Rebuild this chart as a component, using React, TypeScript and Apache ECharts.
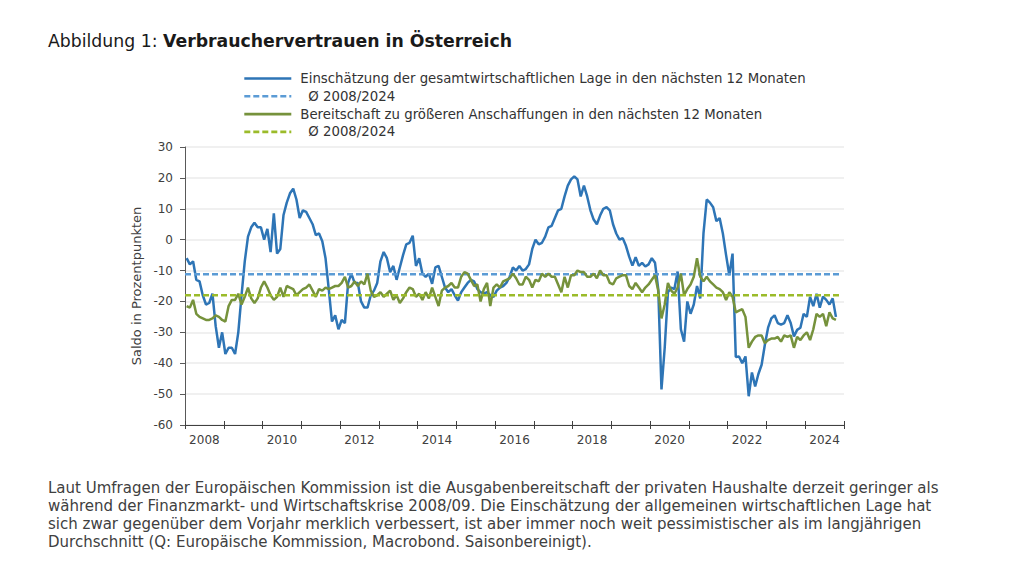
import React, { useEffect, useRef } from 'react';
import * as echarts from 'echarts';

const YEARS = ['2008','2009','2010','2011','2012','2013','2014','2015','2016','2017','2018','2019','2020','2021','2022','2023','2024'];

// Einschätzung der gesamtwirtschaftlichen Lage (monthly, Jan 2008 – Oct 2024)
const LAGE = [
  -6, -8, -7, -13, -13.5, -18, -21, -20.5, -17.5, -28, -35, -30,
  -37, -35, -35, -37, -30, -18, -7, 1, 4, 5.5, 4, 4,
  0, 3.5, -4, 8.5, -4.5, -3, 8, 12, 15, 16.5, 13, 7,
  9.5, 9, 7, 5, 1.5, 2, -0.5, -6, -16, -26.5, -24.5, -29,
  -26, -27, -14, -11, -14, -14, -20, -22, -22, -18, -16.5, -14,
  -7, -4, -6, -10.5, -8.5, -13, -9, -5, -1.5, -1, 1.3, -8.5,
  -6, -11, -12, -11, -14.3, -9, -8.5, -12, -15.5, -17, -16, -18,
  -19.7, -17, -15.5, -14, -13, -13.5, -16, -17, -17.5, -17, -18, -18.5,
  -16.5, -15.5, -15, -14, -12, -9, -10, -8.5, -10, -9.5, -8, -3,
  0, -1.5, -1, 1, 4, 4.5, 7, 9.5, 10, 14, 17.5, 19.5,
  20.5, 19.5, 14, 17.5, 14, 9.5, 6.5, 5, 7.8, 10, 10.5, 9.5,
  5, 2, 0, 0.5, -2, -5.5, -8.4, -5.7, -8.5, -7.5, -8.7, -8,
  -6, -7.5, -16, -48.5, -35, -17, -15.5, -16, -10.3, -29, -33, -20,
  -24, -21, -15, -19, 2, 13, 12, 10.5, 6, 7, 2, -5,
  -11.5, -4.5, -38, -37.8, -40, -37.8, -50.7, -43, -47.5, -43.5, -40.5, -34,
  -28.5, -25.5, -24.5, -27, -27.5, -27, -24.5, -27, -31.3, -29.2, -28.5, -24,
  -25, -18.5, -21.5, -17.5, -22, -18.4, -19.5, -21, -19, -25
];

// Bereitschaft zu größeren Anschaffungen (monthly, Jan 2008 – Oct 2024)
const ANSCHAFFUNG = [
  -21.5, -22, -19.5, -24, -25, -25.5, -26, -26, -25.5, -24.5, -25, -26,
  -26.5, -21.5, -19.5, -19.5, -17.5, -21, -18.5, -15.5, -19, -20.5, -19, -15.5,
  -13.5, -15.5, -18, -19.5, -18.5, -15.5, -18.5, -15, -15.5, -16, -18, -17,
  -16, -15.5, -14.5, -16.5, -18.5, -16, -16.5, -15.5, -16, -15.5, -15, -15,
  -14, -12, -15.5, -15, -13.5, -15, -13.5, -14.5, -11, -16.5, -18.5, -18,
  -17, -18.5, -17.5, -16.5, -19.5, -18, -20.5, -19, -17, -15.5, -16, -18.5,
  -17.5, -19.5, -17, -19, -15.5, -18.5, -21.5, -16.5, -15.5, -15, -14, -15.5,
  -15.5, -12, -10.5, -11, -13, -15, -14.5, -20, -16, -14, -21.5, -15.5,
  -14.5, -15.5, -13.5, -13, -12.5, -11, -12.5, -14.5, -14.5, -12, -13, -15.5,
  -13, -13.5, -11, -12, -11, -12, -12, -14.5, -17, -12, -15.5, -11.5,
  -11.5, -10, -10.5, -10.5, -12, -12, -11, -12.5, -10, -11.5, -11.5, -14,
  -14.5, -12.5, -12, -11.5, -11.5, -15, -16, -14, -15.5, -17, -15.5, -14.5,
  -13, -11.5, -16.5, -25.5, -21, -14, -16.5, -17.5, -15.5, -11, -18, -16,
  -14.5, -12, -6, -12, -13.5, -12, -13.5, -14.5, -15.5, -16, -17, -19.5,
  -17, -18.5, -23.5, -23, -22.5, -25, -35, -33, -31.5, -31, -31, -33.5,
  -32.5, -32, -32, -31.5, -33, -31, -31.5, -31, -35, -31.5, -32.5, -31,
  -30, -32.5, -29, -24, -25, -24, -28, -23.5, -25.5, -26
];

const LAGE_AVG = -11.2;
const ANSCHAFFUNG_AVG = -18.0;
const AVG_MONTHS = [0, 202.7];

const LEGEND_LABELS: Record<string, string> = {
  lage: 'Einschätzung der gesamtwirtschaftlichen Lage in den nächsten 12 Monaten',
  lageAvg: 'Ø 2008/2024',
  anschaffung: 'Bereitschaft zu größeren Anschaffungen in den nächsten 12 Monaten',
  anschaffungAvg: 'Ø 2008/2024',
};

const TITLE_PREFIX = 'Abbildung 1: ';
const TITLE_MAIN = 'Verbrauchervertrauen in Österreich';
const Y_NAME = 'Saldo in Prozentpunkten';
const PARAGRAPH = [
  'Laut Umfragen der Europäischen Kommission ist die Ausgabenbereitschaft der privaten Haushalte derzeit geringer als',
  'während der Finanzmarkt- und Wirtschaftskrise 2008/09. Die Einschätzung der allgemeinen wirtschaftlichen Lage hat',
  'sich zwar gegenüber dem Vorjahr merklich verbessert, ist aber immer noch weit pessimistischer als im langjährigen',
  'Durchschnitt (Q: Europäische Kommission, Macrobond. Saisonbereinigt).',
];

const FONT = 'DejaVu Sans';
const TEXT_COLOR = '#404040';

export default function App() {
  const ref = useRef<HTMLDivElement>(null);
  useEffect(() => {
    if (!ref.current) return;
    const chart = echarts.init(ref.current, undefined, { renderer: 'svg' });
    const toPoints = (arr: number[]) => arr.map((v, i) => [i + 0.5, v]);
    const avgPoints = (v: number) => AVG_MONTHS.map((m) => [m, v]);
    const zeroAxis = (inside: boolean) => ({
      type: 'value',
      min: 0,
      max: 17,
      interval: 1,
      position: 'bottom',
      axisLine: { show: true, onZero: true, lineStyle: { color: '#404040', width: 1 } },
      axisTick: { show: true, inside, length: 4, lineStyle: { color: '#404040', width: 1 } },
      axisLabel: { show: false },
      splitLine: { show: false },
    });
    chart.setOption({
      animation: false,
      backgroundColor: '#ffffff',
      textStyle: { fontFamily: FONT },
      grid: { left: 185, right: 180, top: 147, bottom: 152, containLabel: false },
      legend: {
        orient: 'vertical',
        left: 243,
        top: 72,
        padding: 0,
        itemWidth: 47,
        itemHeight: 14,
        itemGap: 4.8,
        selectedMode: false,
        itemStyle: { opacity: 0 },
        lineStyle: { width: 2.6 },
        textStyle: { fontFamily: FONT, fontSize: 13.3, color: '#333333' },
        formatter: (name: string) => LEGEND_LABELS[name],
        data: [
          { name: 'lage', textStyle: { padding: [0, 0, 0, 4] } },
          { name: 'lageAvg', textStyle: { padding: [0, 0, 0, 12] } },
          { name: 'anschaffung', textStyle: { padding: [0, 0, 0, 4] } },
          { name: 'anschaffungAvg', textStyle: { padding: [0, 0, 0, 12] } },
        ],
      },
      xAxis: [
        { type: 'value', min: 0, max: 204, show: false },
        {
          type: 'category',
          data: YEARS,
          boundaryGap: true,
          position: 'bottom',
          axisLine: { show: false, onZero: false },
          axisTick: { show: false },
          axisLabel: { interval: 1, color: TEXT_COLOR, fontSize: 12, margin: 9, fontFamily: FONT },
          splitLine: { show: false },
        },
        zeroAxis(false),
        zeroAxis(true),
      ],
      yAxis: {
        type: 'value',
        min: -60,
        max: 30,
        interval: 10,
        name: Y_NAME,
        nameLocation: 'middle',
        nameGap: 40,
        nameTextStyle: { color: TEXT_COLOR, fontSize: 13, fontFamily: FONT },
        axisLine: { show: true, onZero: false, lineStyle: { color: '#595959', width: 1 } },
        axisTick: { show: true, length: 5, lineStyle: { color: '#595959' } },
        axisLabel: { color: TEXT_COLOR, fontSize: 12, margin: 12, fontFamily: FONT },
        splitLine: { show: true, lineStyle: { color: '#ebebeb', width: 1.5 } },
      },
      series: [
        {
          name: 'lage', type: 'line', xAxisIndex: 0, data: toPoints(LAGE), symbol: 'none',
          lineStyle: { color: '#2e75b6', width: 2.5 }, itemStyle: { color: '#2e75b6' }, z: 3,
        },
        {
          name: 'lageAvg', type: 'line', xAxisIndex: 0, data: avgPoints(LAGE_AVG), symbol: 'none',
          lineStyle: { color: '#5b9bd5', width: 2.5, type: [6, 3] }, itemStyle: { color: '#5b9bd5' }, z: 4,
        },
        {
          name: 'anschaffung', type: 'line', xAxisIndex: 0, data: toPoints(ANSCHAFFUNG), symbol: 'none',
          lineStyle: { color: '#76923c', width: 2.5 }, itemStyle: { color: '#76923c' }, z: 5,
        },
        {
          name: 'anschaffungAvg', type: 'line', xAxisIndex: 0, data: avgPoints(ANSCHAFFUNG_AVG), symbol: 'none',
          lineStyle: { color: '#9bbb2a', width: 2.5, type: [6, 3] }, itemStyle: { color: '#9bbb2a' }, z: 6,
        },
      ],
      graphic: [
        {
          type: 'text',
          left: 48,
          top: 32,
          style: {
            text: `{a|${TITLE_PREFIX}}{b|${TITLE_MAIN}}`,
            rich: {
              a: { fontSize: 17.3, fontFamily: FONT, fill: '#1a1a1a' },
              b: { fontSize: 17.3, fontFamily: FONT, fontWeight: 'bold', fill: '#1a1a1a' },
            },
          },
        },
        {
          type: 'text',
          left: 48,
          top: 479,
          style: {
            text: PARAGRAPH.join('\n'),
            font: `15px "${FONT}"`,
            lineHeight: 18,
            fill: TEXT_COLOR,
          },
        },
      ],
    });
    return () => chart.dispose();
  }, []);
  return (
    <div
      ref={ref}
      style={{ position: 'absolute', left: 0, top: 0, width: 1024, height: 577, background: '#fff' }}
    />
  );
}
